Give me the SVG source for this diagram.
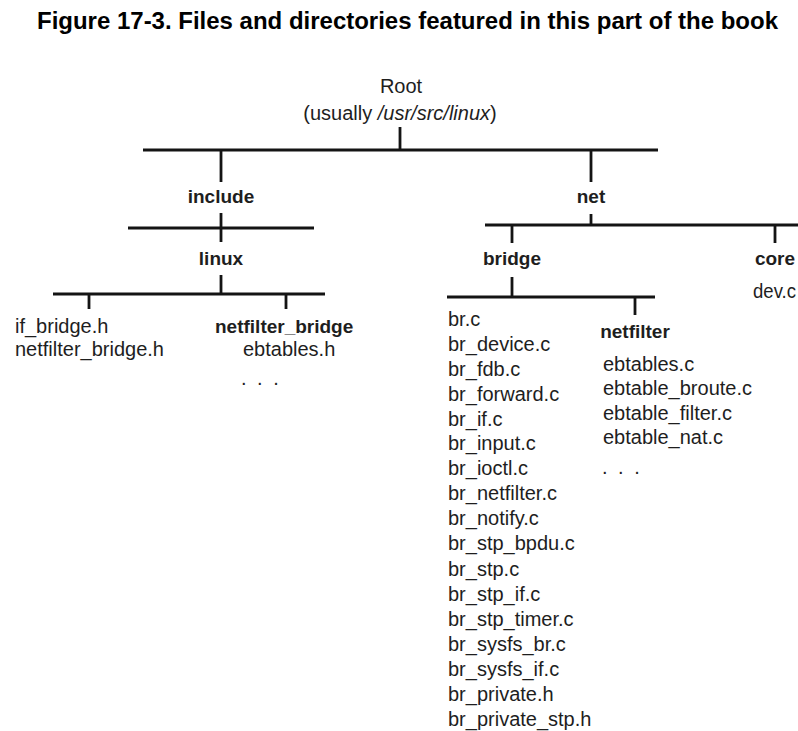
<svg xmlns="http://www.w3.org/2000/svg" width="798" height="731" viewBox="0 0 798 731">
<style>
.t{font-family:"Liberation Sans",Arial,sans-serif;font-size:20px;fill:#1e1e1e}
.b{font-family:"Liberation Sans",Arial,sans-serif;font-size:19px;font-weight:bold;fill:#1e1e1e}
.m{text-anchor:middle}
.title{font-family:"Liberation Sans",Arial,sans-serif;font-size:23px;font-weight:bold;fill:#000}
.dots{letter-spacing:2.5px}
#connectors line{stroke:#141414;stroke-width:2.8;stroke-linecap:butt}
</style>
<rect width="798" height="731" fill="#fff"/>
<text class="title" x="37" y="29" textLength="741" lengthAdjust="spacingAndGlyphs">Figure 17-3. Files and directories featured in this part of the book</text>
<g id="connectors">
<line x1="400" y1="127" x2="400" y2="150"/>
<line x1="143" y1="150" x2="658" y2="150"/>
<line x1="221" y1="150" x2="221" y2="182"/>
<line x1="591" y1="150" x2="591" y2="182"/>
<line x1="221" y1="213" x2="221" y2="242"/>
<line x1="128" y1="228" x2="314" y2="228"/>
<line x1="221" y1="275" x2="221" y2="294"/>
<line x1="53" y1="294" x2="325" y2="294"/>
<line x1="89" y1="294" x2="89" y2="309"/>
<line x1="286" y1="294" x2="286" y2="309"/>
<line x1="591" y1="214" x2="591" y2="225"/>
<line x1="485" y1="225" x2="798" y2="225"/>
<line x1="512" y1="225" x2="512" y2="243"/>
<line x1="775" y1="225" x2="775" y2="243"/>
<line x1="512" y1="277" x2="512" y2="297"/>
<line x1="447" y1="297" x2="655" y2="297"/>
<line x1="635" y1="297" x2="635" y2="315"/>
</g>
<g id="root">
<text class="t m" x="401" y="93">Root</text>
<text class="t m" x="400" y="120">(usually <tspan font-style="italic">/usr/src/linux</tspan>)</text>
</g>
<g id="include"><text class="b m" x="221" y="203">include</text></g>
<g id="net"><text class="b m" x="591" y="203">net</text></g>
<g id="linux"><text class="b m" x="221" y="265">linux</text></g>
<g id="linux-files">
<text class="t" x="15" y="333">if_bridge.h</text>
<text class="t" x="15" y="356">netfilter_bridge.h</text>
</g>
<g id="netfilter_bridge">
<text class="b" x="215" y="333">netfilter_bridge</text>
<text class="t" x="243" y="356">ebtables.h</text>
<text class="t dots" x="241" y="385">. . .</text>
</g>
<g id="bridge"><text class="b m" x="512" y="265">bridge</text></g>
<g id="core">
<text class="b m" x="775" y="265">core</text>
<text class="t" x="753" y="298" textLength="43" lengthAdjust="spacingAndGlyphs">dev.c</text>
</g>
<g id="bridge-files">
<text class="t" x="448" y="326">br.c</text>
<text class="t" x="448" y="351">br_device.c</text>
<text class="t" x="448" y="376">br_fdb.c</text>
<text class="t" x="448" y="401">br_forward.c</text>
<text class="t" x="448" y="426">br_if.c</text>
<text class="t" x="448" y="450">br_input.c</text>
<text class="t" x="448" y="475">br_ioctl.c</text>
<text class="t" x="448" y="500">br_netfilter.c</text>
<text class="t" x="448" y="525">br_notify.c</text>
<text class="t" x="448" y="550">br_stp_bpdu.c</text>
<text class="t" x="448" y="576">br_stp.c</text>
<text class="t" x="448" y="601">br_stp_if.c</text>
<text class="t" x="448" y="626">br_stp_timer.c</text>
<text class="t" x="448" y="651">br_sysfs_br.c</text>
<text class="t" x="448" y="676">br_sysfs_if.c</text>
<text class="t" x="448" y="701">br_private.h</text>
<text class="t" x="448" y="726">br_private_stp.h</text>
</g>
<g id="netfilter">
<text class="b m" x="635" y="338">netfilter</text>
<text class="t" x="603" y="371">ebtables.c</text>
<text class="t" x="603" y="395">ebtable_broute.c</text>
<text class="t" x="603" y="420">ebtable_filter.c</text>
<text class="t" x="603" y="444">ebtable_nat.c</text>
<text class="t dots" x="602" y="474">. . .</text>
</g>
</svg>
